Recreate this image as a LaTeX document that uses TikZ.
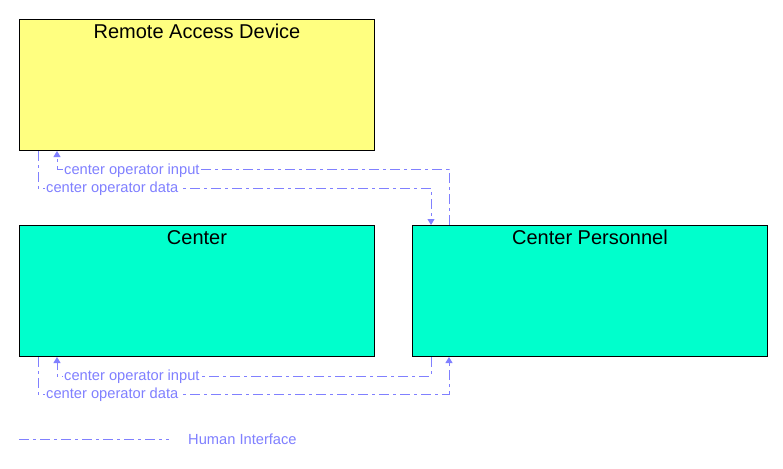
\documentclass[tikz,border=0pt]{standalone}
\usepackage{fontspec}
\setmainfont{Liberation Sans}
\usetikzlibrary{arrows.meta,calc}
\definecolor{radyellow}{RGB}{255,255,128}
\definecolor{ctraqua}{RGB}{0,255,204}
\definecolor{hiblue}{RGB}{128,128,255}
\tikzset{
  box/.style={draw=black, line width=1pt, minimum width=355pt, minimum height=131pt, anchor=north west, inner sep=0pt},
  ttl/.style={anchor=north, inner sep=0pt, font=\fontsize{20pt}{24pt}\selectfont},
  hi/.style={draw=hiblue, line width=1pt, dash pattern=on 10pt off 4pt on 3pt off 4pt},
  hiarrow/.style={hi, -{Triangle[width=7pt,length=6pt]}},
  lbl/.style={fill=white, text=hiblue, inner sep=1pt, anchor=base west, font=\fontsize{14.67pt}{16pt}\selectfont}
}
\begin{document}
\begin{tikzpicture}[x=1pt,y=-1pt]
\useasboundingbox (0,0) rectangle (783,468);
\node[box, fill=radyellow] (rad) at (19,19) {};
\node[box, fill=ctraqua] (ctr) at (19,225) {};
\node[box, fill=ctraqua] (cp) at (412,225) {};
\node[ttl] (radt) at ([yshift=-5pt]rad.north) {Remote Access Device};
\node[ttl] (ctrt) at ([yshift=-5pt]ctr.north) {Center};
\node[ttl] (cpt) at ([yshift=-5pt]cp.north) {Center Personnel};
% top flows
\draw[hiarrow] ([xshift=37pt]cp.north west) -- ++(0,-56) -| ([xshift=38pt]rad.south west);
\draw[hiarrow] ([xshift=19pt]rad.south west) -- ++(0,37) -| ([xshift=19pt]cp.north west);
% bottom flows
\draw[hiarrow] ([xshift=19pt]cp.south west) -- ++(0,19) -| ([xshift=38pt]ctr.south west);
\draw[hiarrow] ([xshift=19pt]ctr.south west) -- ++(0,37) -| ([xshift=37pt]cp.south west);
% labels
\node[lbl] (l1) at (63,174) {center operator input};
\node[lbl] (l2) at (45,192) {center operator data};
\node[lbl] (l3) at (63,380) {center operator input};
\node[lbl] (l4) at (45,398) {center operator data};
% legend
\coordinate (lg1) at (19,439);
\coordinate (lg2) at (169,439);
\draw[hi] (lg1) -- (lg2);
\node[lbl] (lgt) at (187,444) {Human Interface};
\end{tikzpicture}
\end{document}
